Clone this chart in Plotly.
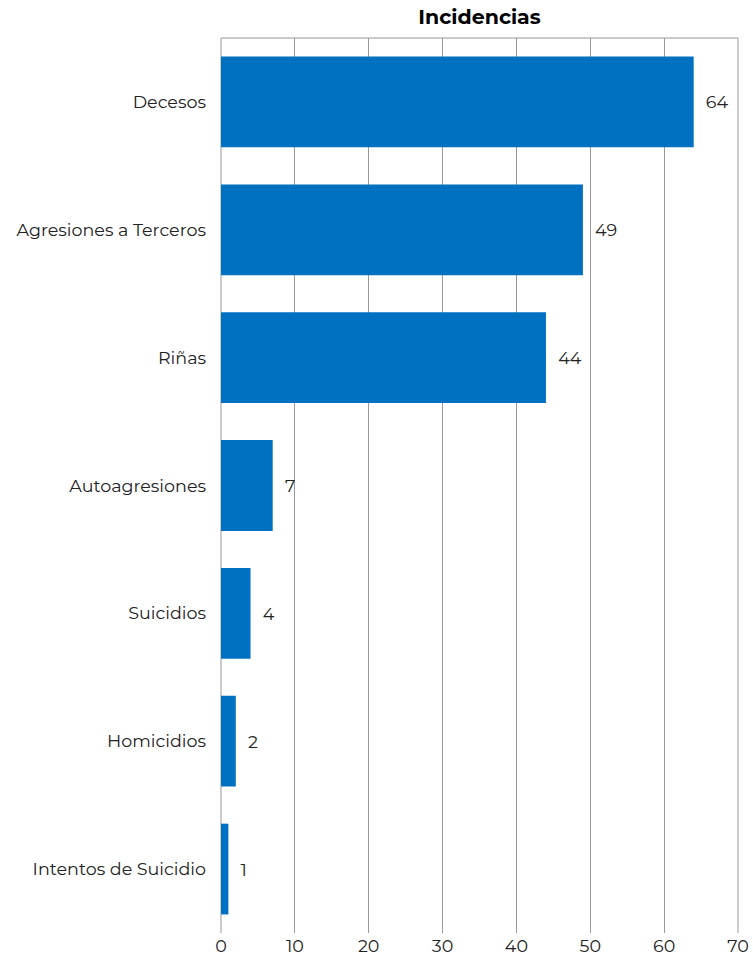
import plotly.graph_objects as go

categorias = ["Decesos", "Agresiones a Terceros", "Riñas", "Autoagresiones",
              "Suicidios", "Homicidios", "Intentos de Suicidio"]
valores = [64, 49, 44, 7, 4, 2, 1]
ticks_x = [0, 10, 20, 30, 40, 50, 60, 70]

fuente = "Montserrat, Lato, 'Noto Sans', sans-serif"
gris = "#999999"

fig = go.Figure()

fig.add_trace(go.Bar(
    y=categorias,
    x=valores,
    orientation="h",
    marker=dict(color="#0070C0", line=dict(width=0)),
    text=valores,
    texttemplate="\u00a0\u00a0%{x}",
    textposition="outside",
    textfont=dict(family=fuente, size=17.5, color="#222222"),
    cliponaxis=False,
))

fig.update_layout(
    title=dict(text="<b>Incidencias</b>", x=0.5, xanchor="center", xref="paper",
               y=1 - 17 / 969, yanchor="middle", automargin=False,
               font=dict(family=fuente, size=20.5, color="#000000")),
    width=753,
    height=969,
    margin=dict(l=221, r=15, t=38, b=36),
    plot_bgcolor="white",
    paper_bgcolor="white",
    bargap=0.29,
    showlegend=False,
    font=dict(family=fuente, size=17.5, color="#222222"),
    xaxis=dict(
        range=[0, 70],
        tickvals=ticks_x,
        showgrid=True,
        gridcolor=gris,
        gridwidth=1,
        zeroline=False,
        showline=False,
        ticks="",
        automargin=False,
        tickfont=dict(family=fuente, size=17.5, color="#222222"),
    ),
    yaxis=dict(
        categoryorder="array",
        categoryarray=categorias[::-1],
        showgrid=False,
        zeroline=False,
        showline=False,
        ticks="",
        automargin=False,
        ticklabelstandoff=14,
        tickfont=dict(family=fuente, size=17.5, color="#222222"),
    ),
)

# bordes del área de trazado: arriba, izquierda (0) y derecha (70)
fig.add_shape(type="line", xref="paper", yref="paper", x0=0, x1=1, y0=1, y1=1,
              line=dict(color=gris, width=1), layer="below")
fig.add_shape(type="line", xref="paper", yref="paper", x0=0, x1=0, y0=0, y1=1,
              line=dict(color=gris, width=1), layer="below")
fig.add_shape(type="line", xref="paper", yref="paper", x0=1, x1=1, y0=0, y1=1,
              line=dict(color=gris, width=1), layer="below")

fig.write_html("out.html", config={"displayModeBar": False},
               post_script="document.body.style.margin='0';")
